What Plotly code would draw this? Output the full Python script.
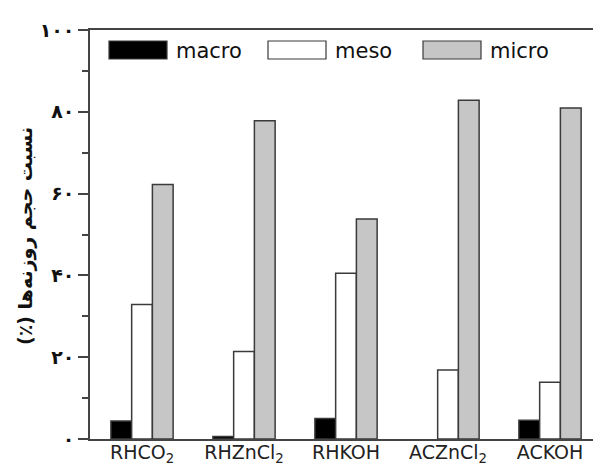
import plotly.graph_objects as go

categories = ["RHCO<sub>2</sub>", "RHZnCl<sub>2</sub>", "RHKOH", "ACZnCl<sub>2</sub>", "ACKOH"]
macro = [4.4, 0.6, 5.0, 0.0, 4.6]
meso = [32.9, 21.4, 40.5, 16.9, 13.9]
micro = [62.2, 77.8, 53.8, 82.8, 80.9]
ytick_vals = [0, 20, 40, 60, 80, 100]
ytick_text = ["۰", "۲۰", "۴۰", "۶۰", "۸۰", "۱۰۰"]
series_names = ["macro", "meso", "micro"]
fills = ["#000000", "#ffffff", "#c6c6c6"]
edge = "#3a3a3a"

x = list(range(len(categories)))
fig = go.Figure()
for name, vals, col in zip(series_names, [macro, meso, micro], fills):
    fig.add_trace(go.Bar(x=x, y=vals, name=name,
                         marker=dict(color=col, line=dict(color=edge, width=[1.5 if v > 0 else 0 for v in vals])),
                         showlegend=False))

W, H = 601, 467
L, T, B = 82, 22, 36
pw = W - L
ph = H - T - B

def px(x0):
    return (x0 - L) / pw

def py(y0):
    return (H - B - y0) / ph

shapes = []
annotations = []
for name, col, bx in zip(series_names, fills, [101, 260, 415]):
    shapes.append(dict(type="rect", xref="paper", yref="paper", x0=px(bx), x1=px(bx + 58), y0=py(51), y1=py(33),
                       fillcolor=col, line=dict(color=edge, width=1.2)))
    annotations.append(dict(xref="paper", yref="paper", x=px(bx + 65), y=py(43), text=name, showarrow=False,
                            xanchor="left", yanchor="middle",
                            font=dict(family="DejaVu Sans", size=21, color="#111")))

title = "\u200f" + "نسبت حجم روزنه‌ها (٪)" + "\u200f"
annotations.append(dict(xref="paper", yref="paper", x=px(17), y=py(228), text="<b>" + title + "</b>",
                        textangle=-90, showarrow=False, xanchor="center", yanchor="middle",
                        font=dict(family="DejaVu Sans", size=19, color="#111")))

fig.update_layout(
    width=W, height=H,
    margin=dict(l=L, r=0, t=T, b=B),
    paper_bgcolor="white", plot_bgcolor="white",
    barmode="group", bargap=0.39, bargroupgap=0,
    shapes=shapes, annotations=annotations,
    showlegend=False,
)
fig.update_xaxes(range=[-0.51, -0.51 + pw / 102], tickvals=x, ticktext=categories,
                 showline=True, linecolor="#444", linewidth=1.5, mirror=True, ticks="",
                 showgrid=False, zeroline=False, ticklabelstandoff=-5,
                 tickfont=dict(family="DejaVu Sans", size=19, color="#222"))
fig.update_yaxes(range=[0, 100], tickvals=ytick_vals, ticktext=[f"<b>{t}</b>" for t in ytick_text],
                 showline=True, linecolor="#444", linewidth=1.5, mirror=False,
                 ticks="outside", ticklen=10, tickwidth=1.5, tickcolor="#444",
                 minor=dict(tickvals=[10, 30, 50, 70, 90], ticks="outside", ticklen=6, tickwidth=1.5, tickcolor="#444"),
                 showgrid=False, zeroline=False,
                 tickfont=dict(family="DejaVu Sans", size=19, color="#111"))

fig.write_html("out.html")
